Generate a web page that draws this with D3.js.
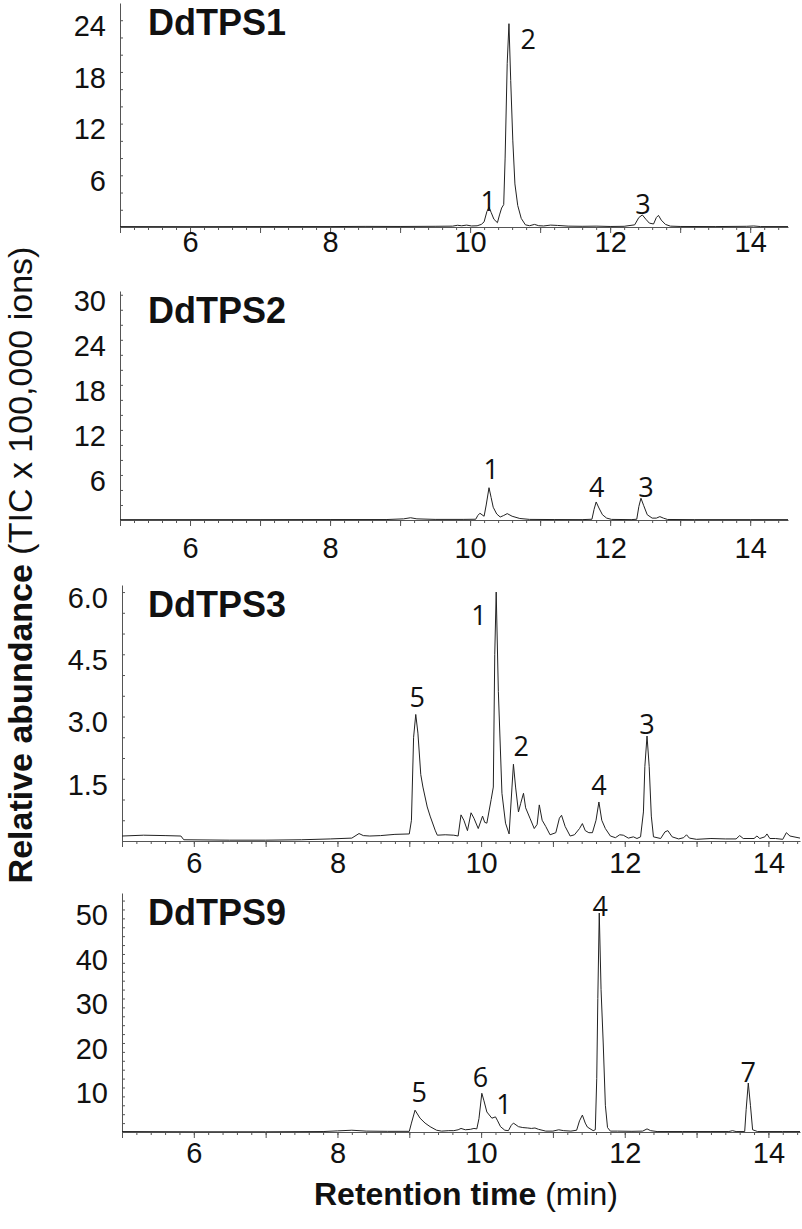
<!DOCTYPE html>
<html>
<head>
<meta charset="utf-8">
<script src="https://cdn.jsdelivr.net/npm/d3@7"></script>
<style>
  body { margin: 0; background: #fff; }
  svg { display: block; }
  text { font-family: "Liberation Sans", Arial, sans-serif; fill: #111; }
</style>
</head>
<body>
<div id="chart"></div>
<script>
// Chromatogram traces: [retention time (min), TIC x 100,000]
const tps1 = [[5.0,0.05],[6.0,0.04],[7.0,0.05],[8.0,0.05],[8.5,0.07],[9.0,0.06],[9.5,0.08],[9.75,0.1],[9.82,0.2],[9.88,0.14],[9.95,0.22],[10.02,0.12],[10.1,0.14],[10.16,0.3],[10.2,0.6],[10.24,1.8],[10.27,2.3],[10.3,1.7],[10.34,0.9],[10.39,0.5],[10.42,1.4],[10.45,2.2],[10.48,2.6],[10.5,8],[10.53,19],[10.555,23.6],[10.58,17],[10.61,10],[10.64,5],[10.68,2.5],[10.73,1.0],[10.79,0.25],[10.85,0.15],[10.92,0.3],[10.98,0.15],[11.05,0.12],[11.15,0.22],[11.25,0.18],[11.4,0.1],[11.6,0.08],[11.8,0.1],[12.0,0.06],[12.2,0.08],[12.35,0.25],[12.41,1.1],[12.46,1.4],[12.51,0.9],[12.56,0.45],[12.62,0.35],[12.66,1.1],[12.69,1.35],[12.73,0.8],[12.79,0.3],[12.86,0.1],[13.0,0.06],[13.5,0.05],[13.95,0.08],[14.05,0.12],[14.15,0.05],[14.54,0.05]];

const tps2 = [[5.0,0.05],[6.0,0.05],[7.0,0.05],[8.0,0.06],[8.8,0.06],[9.05,0.15],[9.15,0.3],[9.24,0.15],[9.5,0.08],[9.9,0.08],[10.08,0.1],[10.11,0.6],[10.14,0.9],[10.2,0.5],[10.23,2.0],[10.27,4.3],[10.3,3.0],[10.33,1.7],[10.38,0.8],[10.43,0.4],[10.48,0.6],[10.53,0.85],[10.6,0.5],[10.71,0.2],[10.85,0.08],[11.2,0.06],[11.6,0.05],[11.74,0.1],[11.77,1.4],[11.8,2.4],[11.84,1.6],[11.89,0.7],[11.95,0.25],[12.02,0.08],[12.3,0.05],[12.38,0.1],[12.41,1.8],[12.44,2.9],[12.48,1.9],[12.53,0.7],[12.6,0.25],[12.66,0.25],[12.71,0.45],[12.76,0.25],[12.82,0.07],[13.2,0.05],[14.0,0.05],[14.54,0.05]];

const tps3 = [[5.0,0.12],[5.3,0.14],[5.6,0.13],[5.82,0.12],[5.86,0.03],[6.5,0.02],[7.0,0.02],[7.5,0.03],[7.9,0.05],[8.2,0.07],[8.3,0.18],[8.36,0.13],[8.45,0.12],[8.6,0.13],[8.8,0.16],[9.0,0.17],[9.03,0.5],[9.06,2.5],[9.09,3.05],[9.12,2.6],[9.16,1.6],[9.19,1.3],[9.25,0.82],[9.29,0.6],[9.36,0.26],[9.39,0.14],[9.5,0.15],[9.62,0.14],[9.68,0.12],[9.72,0.63],[9.76,0.5],[9.81,0.25],[9.86,0.68],[9.9,0.55],[9.96,0.3],[10.02,0.6],[10.05,0.45],[10.08,0.43],[10.14,1.0],[10.17,1.3],[10.19,4.5],[10.21,6.0],[10.24,3.6],[10.29,1.15],[10.34,0.43],[10.39,0.17],[10.43,1.3],[10.45,1.85],[10.48,1.3],[10.52,0.7],[10.55,0.9],[10.59,1.15],[10.62,0.8],[10.68,0.55],[10.74,0.3],[10.78,0.4],[10.81,0.87],[10.85,0.5],[10.9,0.35],[10.96,0.15],[11.04,0.2],[11.09,0.55],[11.12,0.62],[11.17,0.35],[11.24,0.12],[11.3,0.15],[11.37,0.3],[11.41,0.42],[11.45,0.25],[11.5,0.2],[11.55,0.2],[11.6,0.5],[11.64,0.94],[11.68,0.5],[11.73,0.3],[11.8,0.12],[11.87,0.08],[11.93,0.15],[11.98,0.14],[12.05,0.07],[12.12,0.1],[12.17,0.06],[12.22,0.1],[12.26,0.7],[12.28,1.8],[12.31,2.53],[12.34,1.8],[12.37,0.6],[12.4,0.1],[12.5,0.06],[12.56,0.22],[12.6,0.25],[12.66,0.1],[12.75,0.05],[12.82,0.08],[12.86,0.15],[12.9,0.07],[13.0,0.04],[13.2,0.06],[13.4,0.05],[13.55,0.05],[13.6,0.13],[13.65,0.06],[13.8,0.06],[13.84,0.12],[13.88,0.06],[13.95,0.1],[13.98,0.17],[14.02,0.06],[14.1,0.06],[14.2,0.04],[14.25,0.2],[14.3,0.12],[14.44,0.07]];

const tps9 = [[5.0,0.1],[6.0,0.05],[7.0,0.05],[7.8,0.1],[8.0,0.25],[8.2,0.4],[8.4,0.2],[8.7,0.15],[9.0,0.15],[9.03,2.0],[9.08,4.9],[9.15,3.1],[9.22,2.0],[9.29,1.2],[9.38,0.4],[9.45,0.2],[9.55,0.3],[9.62,0.3],[9.68,0.5],[9.72,0.8],[9.78,0.5],[9.85,0.6],[9.9,0.8],[9.94,0.7],[9.97,3.0],[10.01,8.7],[10.04,7.0],[10.08,4.5],[10.15,3.1],[10.2,3.4],[10.23,2.5],[10.27,1.2],[10.33,0.4],[10.38,0.3],[10.42,1.5],[10.45,2.0],[10.52,1.2],[10.58,1.0],[10.65,0.9],[10.7,0.8],[10.75,0.9],[10.8,0.6],[10.9,0.2],[11.0,0.2],[11.08,0.5],[11.15,0.3],[11.25,0.2],[11.33,0.4],[11.37,2.5],[11.41,3.8],[11.45,2.0],[11.48,1.1],[11.56,0.3],[11.59,0.5],[11.61,12],[11.625,30],[11.645,49.2],[11.67,32],[11.7,20],[11.73,6],[11.76,1],[11.8,0.2],[11.9,0.2],[12.1,0.15],[12.25,0.2],[12.31,0.7],[12.36,0.3],[12.45,0.1],[12.8,0.1],[13.2,0.1],[13.45,0.1],[13.5,0.3],[13.55,0.1],[13.67,0.1],[13.69,5],[13.72,11],[13.75,6],[13.78,0.5],[13.85,0.1],[14.2,0.1],[14.44,0.1]];

// Peak number labels: [time, height, text]
const tps1Peaks = [[10.26,3.1,"1"],[10.83,21.9,"2"],[12.47,2.7,"3"]];
const tps2Peaks = [[10.3,6.8,"1"],[11.81,4.5,"4"],[12.51,4.5,"3"]];
const tps3Peaks = [[9.11,3.49,"5"],[9.97,5.47,"1"],[10.56,2.31,"2"],[11.64,1.35,"4"],[12.31,2.82,"3"]];
const tps9Peaks = [[9.14,9.0,"5"],[9.99,12.4,"6"],[10.32,6.5,"1"],[11.66,51.0,"4"],[13.72,13.5,"7"]];

const names = ["DdTPS1", "DdTPS2", "DdTPS3", "DdTPS9"];
const xTickLabels = [6, 8, 10, 12, 14];
const tps1YTicks = [6, 12, 18, 24];
const tps2YTicks = [6, 12, 18, 24, 30];
const tps3YTicks = [1.5, 3.0, 4.5, 6.0];
const tps9YTicks = [10, 20, 30, 40, 50];

// Panel geometry (pixels) and scale extents
const layout = [
    { top: 3,   bottom: 227,  left: 120, right: 788, xMax: 14.54, yMax: 26,   minor: 2,   fmt: "d",   labelGap: 25 },
    { top: 291, bottom: 520,  left: 120, right: 788, xMax: 14.54, yMax: 30.5, minor: 2,   fmt: "d",   labelGap: 38 },
    { top: 585, bottom: 841,  left: 122, right: 800, xMax: 14.44, yMax: 6.17, minor: 0.5, fmt: ".1f", labelGap: 32 },
    { top: 893, bottom: 1132, left: 122, right: 800, xMax: 14.44, yMax: 53.7, minor: 2,   fmt: "d",   labelGap: 31 }
];
const traces = [tps1, tps2, tps3, tps9];
const peaks = [tps1Peaks, tps2Peaks, tps3Peaks, tps9Peaks];
const yTicks = [tps1YTicks, tps2YTicks, tps3YTicks, tps9YTicks];

const width = 802, height = 1229;
const axisColor = "#555";

const svg = d3.select("#chart").append("svg")
    .attr("width", width)
    .attr("height", height);

layout.forEach((p, i) => {
    const x = d3.scaleLinear().domain([5, p.xMax]).range([p.left, p.right]);
    const y = d3.scaleLinear().domain([0, p.yMax]).range([p.bottom, p.top]);
    const g = svg.append("g");

    // x axis: minor ticks every 0.2 min, major every minute, labels on even minutes
    g.append("g")
        .attr("transform", `translate(0,${p.bottom})`)
        .call(d3.axisBottom(x).tickValues(d3.range(5, p.xMax, 0.2)).tickSize(3).tickSizeOuter(0).tickFormat(""))
        .call(a => a.select(".domain").attr("stroke", axisColor))
        .call(a => a.selectAll("line").attr("stroke", axisColor));
    g.append("g")
        .attr("transform", `translate(0,${p.bottom})`)
        .call(d3.axisBottom(x).tickValues(d3.range(5, p.xMax, 1)).tickSize(6).tickSizeOuter(0)
            .tickFormat(d => xTickLabels.includes(d) ? d : ""))
        .call(a => a.select(".domain").remove())
        .call(a => a.selectAll("line").attr("stroke", axisColor))
        .call(a => a.selectAll("text")
            .attr("y", p.labelGap).attr("dy", null)
            .style("font-size", "29px").attr("fill", "#111"));

    // y axis: small inward ticks, labels sit a little below their tick
    g.append("g")
        .attr("transform", `translate(${p.left},0)`)
        .call(d3.axisLeft(y).tickValues(d3.range(0, p.yMax, p.minor)).tickSize(-3).tickSizeOuter(0).tickFormat(""))
        .call(a => a.select(".domain").attr("stroke", axisColor))
        .call(a => a.selectAll("line").attr("stroke", axisColor));
    g.append("g")
        .attr("transform", `translate(${p.left},0)`)
        .call(d3.axisLeft(y).tickValues(yTicks[i]).tickSize(0).tickPadding(14).tickFormat(d3.format(p.fmt)))
        .call(a => a.select(".domain").remove())
        .call(a => a.selectAll("text")
            .attr("y", 6)
            .style("font-size", "29px").attr("fill", "#111"));

    // trace
    const line = d3.line()
        .x(d => x(d[0]))
        .y(d => y(d[1]));
    g.append("path")
        .datum(traces[i])
        .attr("fill", "none")
        .attr("stroke", "#222")
        .attr("stroke-width", 1)
        .attr("stroke-linejoin", "round")
        .attr("d", line);

    // peak numbers
    g.selectAll(".peak")
        .data(peaks[i])
        .join("text")
        .attr("class", "peak")
        .attr("x", d => x(d[0]))
        .attr("y", d => y(d[1]))
        .attr("text-anchor", "middle")
        .attr("dominant-baseline", "central")
        .style("font-family", "'Open Sans', 'Noto Sans', sans-serif")
        .style("font-size", "27px")
        .text(d => d[2]);

    // panel name
    g.append("text")
        .attr("x", 148)
        .attr("y", p.top + 19)
        .attr("dominant-baseline", "central")
        .style("font-size", "36px")
        .style("font-weight", "bold")
        .text(names[i]);
});

// axis titles
const yTitle = svg.append("text")
    .attr("transform", "translate(32,565) rotate(-90)")
    .attr("text-anchor", "middle")
    .style("font-size", "34px");
yTitle.append("tspan").style("font-weight", "bold").text("Relative abundance");
yTitle.append("tspan").text(" (TIC x 100,000 ions)");

const xTitle = svg.append("text")
    .attr("x", 466)
    .attr("y", 1205)
    .attr("text-anchor", "middle")
    .style("font-size", "32px");
xTitle.append("tspan").style("font-weight", "bold").text("Retention time");
xTitle.append("tspan").text(" (min)");
</script>
</body>
</html>
